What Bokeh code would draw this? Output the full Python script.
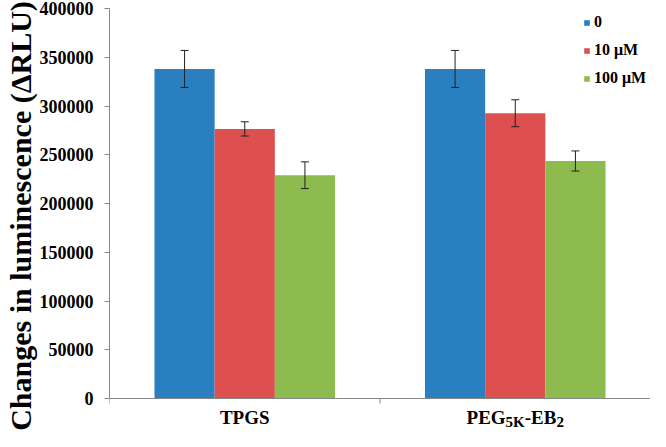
from bokeh.plotting import figure
from bokeh.models import (ColumnDataSource, Whisker, TeeHead, Range1d, Span,
                          SingleIntervalTicker, BasicTickFormatter, Label, Legend, LegendItem)
from bokeh.embed import file_html
from bokeh.resources import INLINE

# ---- data ----
groups = ["TPGS", "PEG5K-EB2"]
series = ["0", "10 \u03bcM", "100 \u03bcM"]
values = {
    "0":      [338000, 338000],
    "10 \u03bcM":  [276500, 292600],
    "100 \u03bcM": [229000, 243600],
}
errors = {
    "0":      [19000, 19000],
    "10 \u03bcM":  [7300, 13800],
    "100 \u03bcM": [13700, 10300],
}
y_ticks_interval = 50000
y_max = 400000
# rich label pieces: (text, is_subscript)
group_label_parts = {
    "TPGS": [("TPGS", False)],
    "PEG5K-EB2": [("PEG", False), ("5K", True), ("-EB", False), ("2", True)],
}

colors = ["#2A7FC1", "#DE4F4F", "#8DBB4E"]
bar_w = 0.2225
offsets = [-bar_w, 0.0, bar_w]
FONT = "Liberation Serif"
AXIS_GREY = "#888888"

W, H = 650, 431
zero_px, top_px = 398, 8          # canvas rows of y=0 and y=y_max
ppu = (zero_px - top_px) / y_max
y_start = -(H - zero_px) / ppu
y_end = y_max + top_px / ppu

p = figure(width=W, height=H, output_backend="svg", toolbar_location=None,
           x_range=Range1d(0, len(groups)), y_range=Range1d(y_start, y_end),
           x_axis_location=None,
           min_border_left=106, min_border_right=0, min_border_top=0, min_border_bottom=0)
p.outline_line_color = None
p.grid.visible = False
p.background_fill_color = "white"
p.border_fill_color = "white"

items = []
for i, s in enumerate(series):
    xs = [g + 0.5 + offsets[i] for g in range(len(groups))]
    src = ColumnDataSource(dict(x=xs, top=values[s],
                                upper=[v + e for v, e in zip(values[s], errors[s])],
                                lower=[v - e for v, e in zip(values[s], errors[s])]))
    r = p.vbar(x="x", top="top", bottom=0, width=bar_w, source=src, fill_color=colors[i],
               line_color=None)
    items.append(LegendItem(label=s, renderers=[r]))
    w = Whisker(source=src, base="x", upper="upper", lower="lower", level="overlay",
                line_color="#222222", line_width=1,
                upper_head=TeeHead(size=8, line_color="#222222", line_width=1),
                lower_head=TeeHead(size=8, line_color="#222222", line_width=1))
    p.add_layout(w)

# y axis
ya = p.yaxis[0]
ya.ticker = SingleIntervalTicker(interval=y_ticks_interval)
ya.formatter = BasicTickFormatter(use_scientific=False)
ya.bounds = (0, y_max)
ya.axis_line_color = AXIS_GREY
ya.major_tick_line_color = AXIS_GREY
ya.major_tick_out = 5
ya.major_tick_in = 0
ya.minor_tick_line_color = None
ya.major_label_text_font = FONT
ya.major_label_text_font_style = "bold"
ya.major_label_text_font_size = "18px"
ya.major_label_text_color = "black"
ya.major_label_standoff = 11
ya.axis_label = "Changes in luminescence (\u0394RLU)"
ya.axis_label_text_font = FONT
ya.axis_label_text_font_style = "bold"
ya.axis_label_text_font_size = "30px"
ya.axis_label_text_color = "black"
ya.axis_label_standoff = 0

# x axis line at y=0 with ticks at the group boundaries
p.add_layout(Span(location=0, dimension="width", line_color=AXIS_GREY, line_width=1))
bounds = list(range(len(groups) + 1))
p.segment(x0=bounds, y0=[0] * len(bounds), x1=bounds, y1=[-5 / ppu] * len(bounds),
          line_color=AXIS_GREY, line_width=1)

# group labels with subscripts
adv = {"P": 611, "E": 667, "G": 778, "T": 667, "S": 556, "B": 667, "K": 778,
       "-": 333, "5": 500, "2": 500}
main_sz, sub_sz = 19, 15
for gi, g in enumerate(groups):
    parts = group_label_parts[g]
    widths = [sum(adv.get(c, 600) for c in t) / 1000 * (sub_sz if sub else main_sz)
              for t, sub in parts]
    xoff = -sum(widths) / 2
    for (t, sub), wdt in zip(parts, widths):
        p.add_layout(Label(x=gi + 0.5, y=0, x_offset=xoff,
                           y_offset=-23 if sub else -19,
                           text=t, text_align="left", text_baseline="alphabetic",
                           text_font=FONT, text_font_style="bold",
                           text_font_size=f"{sub_sz if sub else main_sz}px",
                           text_color="black"))
        xoff += wdt

legend = Legend(items=items, location=(474, 343), orientation="vertical",
                glyph_width=7, glyph_height=7, label_standoff=4, label_height=20,
                spacing=8, padding=0, margin=0, border_line_color=None,
                background_fill_alpha=0,
                label_text_font=FONT, label_text_font_style="bold",
                label_text_font_size="16px", label_text_color="black")
p.add_layout(legend)

open("out.html", "w").write(file_html(p, INLINE))
